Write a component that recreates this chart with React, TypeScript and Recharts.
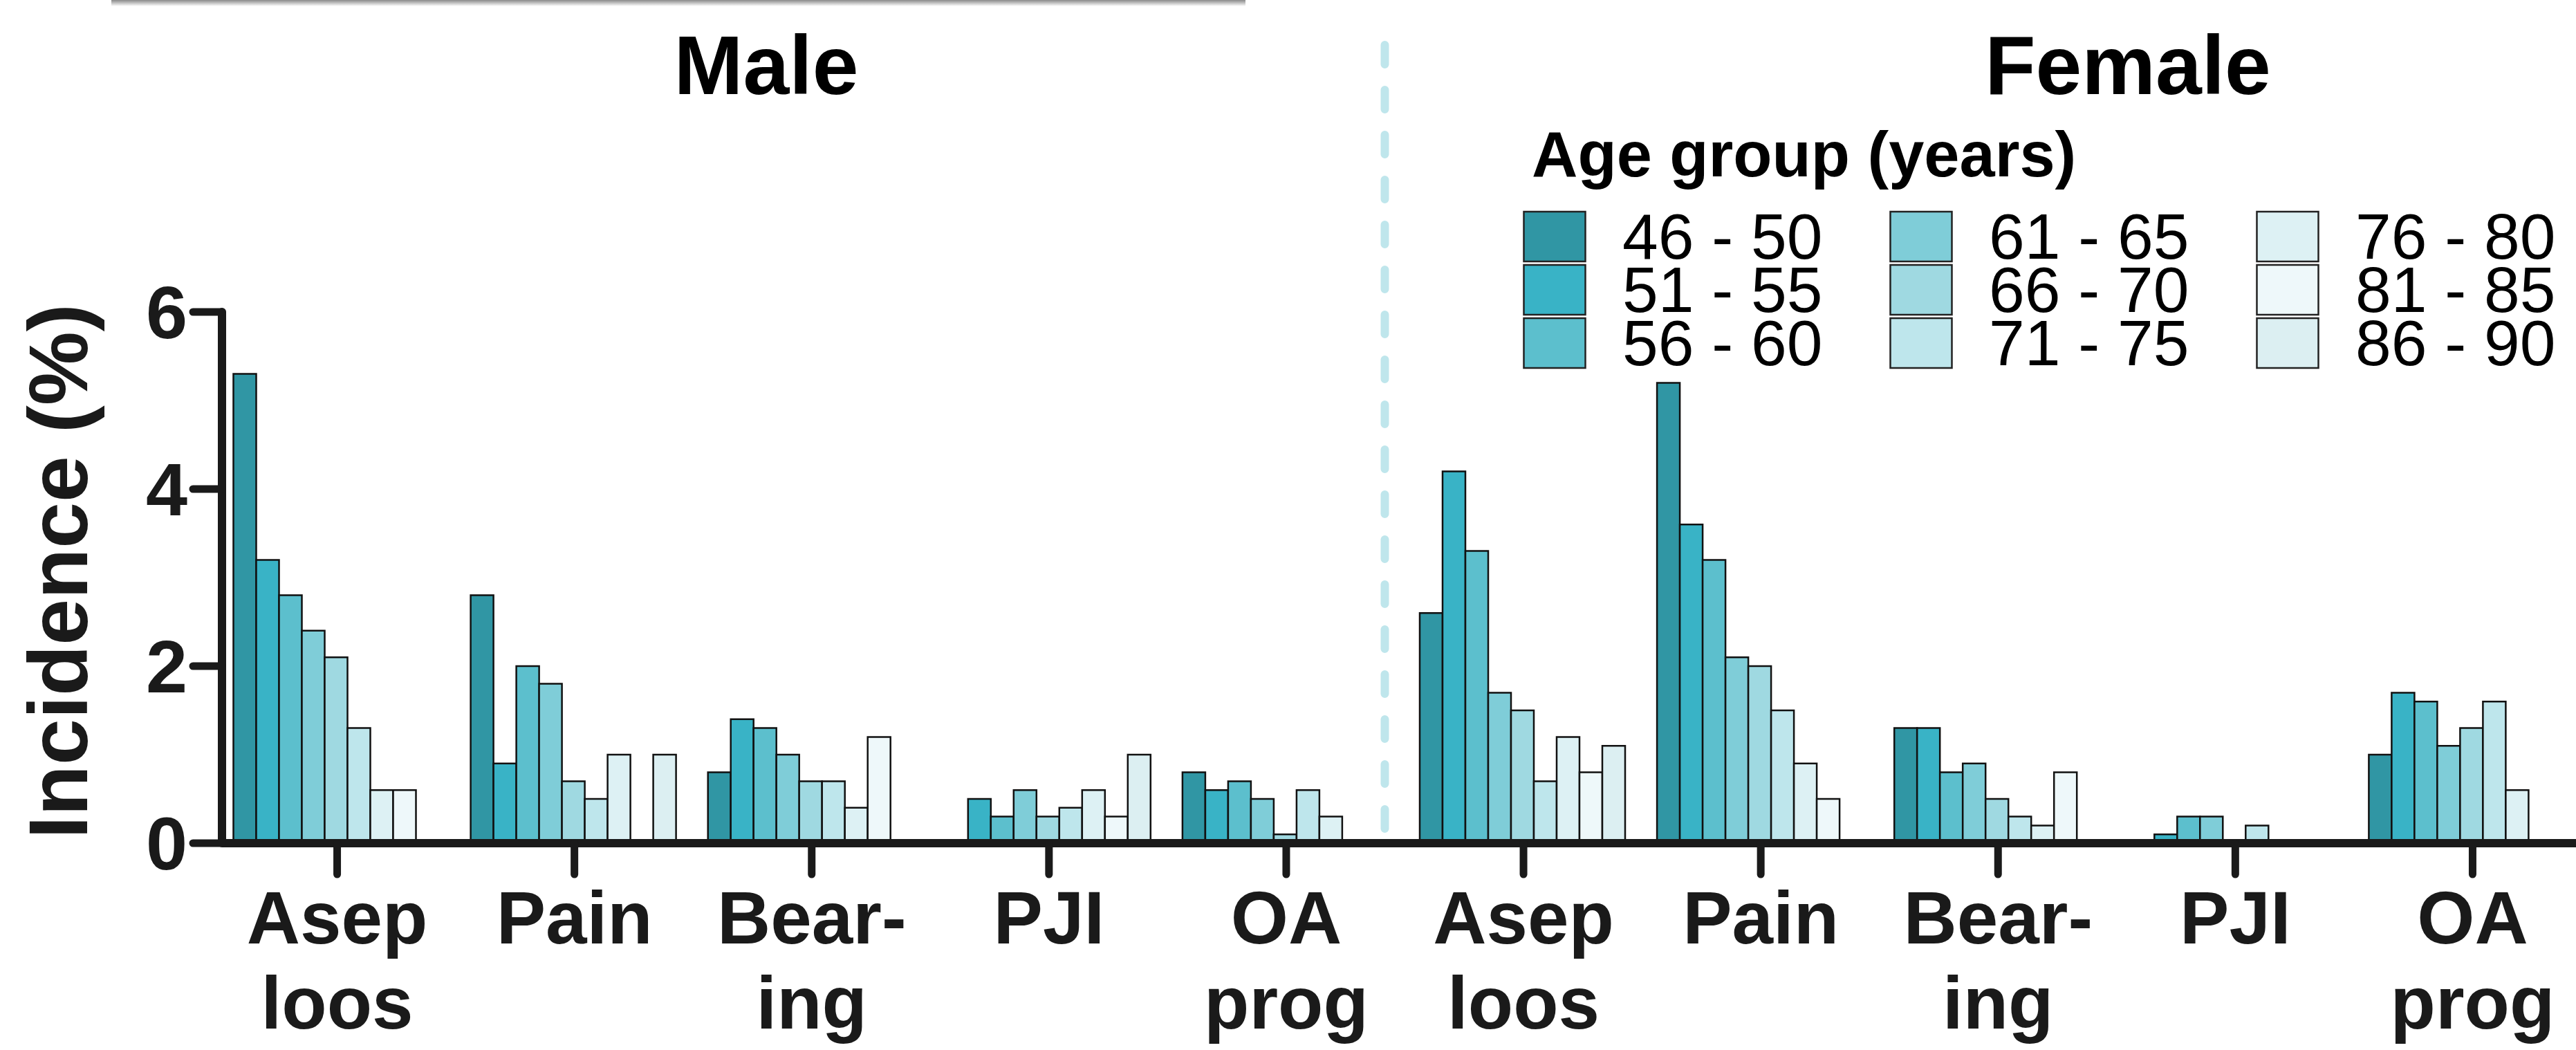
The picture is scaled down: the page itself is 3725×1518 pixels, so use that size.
import React from "react";
import { Bar, BarChart, Legend, ReferenceLine, XAxis, YAxis } from "recharts";

const FONT = '"Liberation Sans", Arial, Helvetica, sans-serif';
const INK = "#1a1a1a";

const AGE_GROUPS = [
  "46 - 50",
  "51 - 55",
  "56 - 60",
  "61 - 65",
  "66 - 70",
  "71 - 75",
  "76 - 80",
  "81 - 85",
  "86 - 90",
];
const AGE_KEYS = ["a46", "a51", "a56", "a61", "a66", "a71", "a76", "a81", "a86"];
const AGE_COLORS = [
  "#3096a4",
  "#39b3c6",
  "#5cbfcd",
  "#7fcdd8",
  "#9fd9e1",
  "#bee6ec",
  "#ddf1f4",
  "#eef8fa",
  "#dceff2",
];

const CATEGORY_IDS = [
  "M_asep",
  "M_pain",
  "M_bearing",
  "M_pji",
  "M_oa",
  "F_asep",
  "F_pain",
  "F_bearing",
  "F_pji",
  "F_oa",
];
const CATEGORY_LINES = [
  ["Asep", "loos"],
  ["Pain"],
  ["Bear-", "ing"],
  ["PJI"],
  ["OA", "prog"],
  ["Asep", "loos"],
  ["Pain"],
  ["Bear-", "ing"],
  ["PJI"],
  ["OA", "prog"],
];

// incidence (%) per age group, in AGE_GROUPS order
const MALE_ASEP_LOOS = [5.3, 3.2, 2.8, 2.4, 2.1, 1.3, 0.6, 0.6, 0];
const MALE_PAIN = [2.8, 0.9, 2.0, 1.8, 0.7, 0.5, 1.0, 0, 1.0];
const MALE_BEARING = [0.8, 1.4, 1.3, 1.0, 0.7, 0.7, 0.4, 1.2, 0];
const MALE_PJI = [0, 0.5, 0.3, 0.6, 0.3, 0.4, 0.6, 0.3, 1.0];
const MALE_OA_PROG = [0.8, 0.6, 0.7, 0.5, 0.1, 0.6, 0.3, 0, 0];
const FEMALE_ASEP_LOOS = [2.6, 4.2, 3.3, 1.7, 1.5, 0.7, 1.2, 0.8, 1.1];
const FEMALE_PAIN = [5.2, 3.6, 3.2, 2.1, 2.0, 1.5, 0.9, 0.5, 0];
const FEMALE_BEARING = [1.3, 1.3, 0.8, 0.9, 0.5, 0.3, 0.2, 0.8, 0];
const FEMALE_PJI = [0, 0.1, 0.3, 0.3, 0, 0.2, 0, 0, 0];
const FEMALE_OA_PROG = [1.0, 1.7, 1.6, 1.1, 1.3, 1.6, 0.6, 0, 0];

const Y_TICKS = [0, 2, 4, 6];

const SERIES_BY_CATEGORY = [
  MALE_ASEP_LOOS,
  MALE_PAIN,
  MALE_BEARING,
  MALE_PJI,
  MALE_OA_PROG,
  FEMALE_ASEP_LOOS,
  FEMALE_PAIN,
  FEMALE_BEARING,
  FEMALE_PJI,
  FEMALE_OA_PROG,
];

const rows = CATEGORY_IDS.map((id, i) => {
  const row: Record<string, string | number> = { id };
  AGE_KEYS.forEach((k, j) => {
    row[k] = SERIES_BY_CATEGORY[i][j];
  });
  return row;
});

function CategoryTick(props: any) {
  const { x, y, payload } = props;
  const lines = CATEGORY_LINES[CATEGORY_IDS.indexOf(payload.value)] ?? [];
  return (
    <text
      x={x}
      y={y}
      textAnchor="middle"
      fontFamily={FONT}
      fontSize={107}
      fontWeight="bold"
      fill={INK}
    >
      {lines.map((l, k) => (
        <tspan key={k} x={x} dy={k === 0 ? 100 : 123}>
          {l}
        </tspan>
      ))}
    </text>
  );
}

function Separator(props: any) {
  // dashed divider between the male and female panels, run up to the titles
  const x = props.x1 - 29;
  const bottom = Math.max(props.y1, props.y2);
  return (
    <line
      x1={x}
      x2={x}
      y1={65}
      y2={bottom - 10}
      stroke="#bfe6ec"
      strokeWidth={12}
      strokeLinecap="round"
      strokeDasharray="28 37"
    />
  );
}

function AgeLegend(props: any) {
  const payload = props.payload ?? [];
  return (
    <svg width={1523} height={380} style={{ display: "block", overflow: "visible" }}>
      <text x={13} y={85} fontFamily={FONT} fontSize={92} fontWeight="bold" fill="#000">
        Age group (years)
      </text>
      {payload.map((e: any, i: number) => {
        const col = Math.floor(i / 3);
        const row = i % 3;
        const x = col * 530;
        const y = 136 + row * 77;
        return (
          <g key={i}>
            <rect x={x + 1.5} y={y} width={89} height={72} fill={e.color} stroke="#222" strokeWidth={2.5} />
            <text x={x + 144} y={y + 68} fontFamily={FONT} fontSize={93} fill="#000">
              {e.value}
            </text>
          </g>
        );
      })}
    </svg>
  );
}

export default function App() {
  return (
    <div
      style={{
        position: "fixed",
        left: 0,
        top: 0,
        width: 3725,
        height: 1518,
        overflow: "hidden",
        background: "#fff",
      }}
    >
      <BarChart
        width={3747}
        height={1518}
        data={rows}
        margin={{ top: 451, right: 0, bottom: 0, left: 0 }}
        barCategoryGap={21.5}
        barGap={0}
      >
        {AGE_KEYS.map((k, j) => (
          <Bar
            key={k}
            dataKey={k}
            name={AGE_GROUPS[j]}
            fill={AGE_COLORS[j]}
            stroke="#111"
            strokeWidth={2.5}
            isAnimationActive={false}
          />
        ))}
        <ReferenceLine x="F_asep" position="start" shape={Separator} />
        <XAxis
          dataKey="id"
          height={299}
          padding={{ left: -5, right: 0 }}
          interval={0}
          tick={CategoryTick}
          tickSize={45}
          tickMargin={0}
          axisLine={{ stroke: INK, strokeWidth: 12 }}
          tickLine={{ stroke: INK, strokeWidth: 11, strokeLinecap: "round" }}
        />
        <YAxis
          width={321}
          domain={[0, 6]}
          ticks={Y_TICKS}
          interval={0}
          tickSize={42}
          tickMargin={8}
          axisLine={{ stroke: INK, strokeWidth: 12, strokeLinecap: "round" }}
          tickLine={{ stroke: INK, strokeWidth: 11, strokeLinecap: "round" }}
          tick={{ fontSize: 108, fontWeight: "bold", fill: INK, fontFamily: FONT }}
        />
        <Legend
          layout="horizontal"
          verticalAlign="middle"
          align="center"
          content={AgeLegend}
          wrapperStyle={{ left: 2202, top: 170, width: 1523, height: 380 }}
        />
      </BarChart>
      <svg
        width={3725}
        height={1518}
        style={{ position: "absolute", left: 0, top: 0, pointerEvents: "none" }}
      >
        <defs>
          <linearGradient id="topShade" x1="0" y1="0" x2="0" y2="1">
            <stop offset="0" stopColor="#8a8a8a" />
            <stop offset="1" stopColor="#ffffff" />
          </linearGradient>
        </defs>
        <rect x={161} y={0} width={1640} height={9} fill="url(#topShade)" />
        <text x={1108} y={136} textAnchor="middle" fontFamily={FONT} fontSize={120} fontWeight="bold" fill="#000">
          Male
        </text>
        <text x={3077} y={136} textAnchor="middle" fontFamily={FONT} fontSize={120} fontWeight="bold" fill="#000">
          Female
        </text>
        <text
          x={126}
          y={826}
          transform="rotate(-90 126 826)"
          textAnchor="middle"
          fontFamily={FONT}
          fontSize={120}
          fontWeight="bold"
          fill={INK}
        >
          Incidence (%)
        </text>
      </svg>
    </div>
  );
}
